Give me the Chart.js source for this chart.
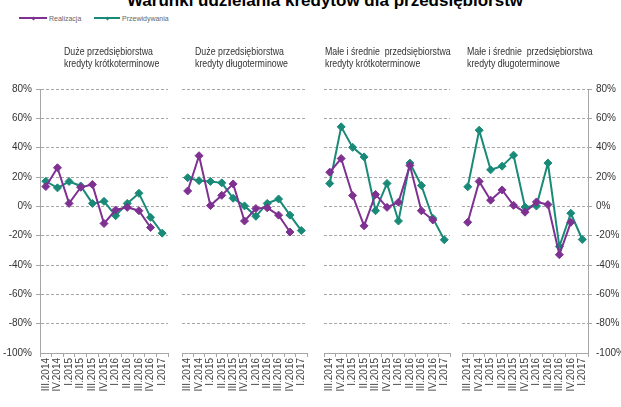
<!DOCTYPE html>
<html lang="pl">
<head>
<meta charset="utf-8">
<title>Warunki udzielania kredytów dla przedsiębiorstw</title>
<script src="https://cdn.jsdelivr.net/npm/chart.js@4.4.0/dist/chart.umd.min.js"></script>
<style>
    html, body { margin: 0; padding: 0; background: #fff; }
    #wrap { position: relative; width: 621px; height: 407px; overflow: hidden; background: #fff;
        font-family: "Liberation Sans", Arial, sans-serif; color: #333; }
    #wrap canvas { position: absolute; top: 0; }
    .main-title { position: absolute; left: 0; width: 650px; top: -8px; text-align: center;
        font-weight: bold; font-size: 17px; line-height: 17px; color: #000; white-space: nowrap; }
    .legend-item { position: absolute; top: 14px; font-size: 7px; line-height: 7px; color: #666; white-space: nowrap; }
    .legend-item .swatch { display: inline-block; position: relative; height: 1.5px; vertical-align: middle;
        margin-right: 2px; background: currentColor; }
    .legend-item .swatch::after { content: ""; position: absolute; left: 50%; top: 50%; width: 3px; height: 3px;
        margin: -1.5px 0 0 -1.5px; background: currentColor; transform: rotate(45deg); }
    .legend-item .label { color: #666; vertical-align: middle; }
    .panel-title { position: absolute; top: 46px; font-size: 11px; line-height: 11.5px; color: #333;
        white-space: pre; transform: scaleX(0.8); transform-origin: 0 0; }
</style>
</head>
<body>
<div id="wrap">
    <div class="main-title">Warunki udzielania kredytów dla przedsiębiorstw</div>
    <div class="legend-item" style="left:19px"><span class="swatch" style="width:28px;color:#7e3191"></span><span class="label">Realizacja</span></div>
    <div class="legend-item" style="left:94px"><span class="swatch" style="width:26px;color:#1a8a78"></span><span class="label">Przewidywania</span></div>
    <canvas id="panel-1" width="173" height="407" style="left:0px"></canvas>
    <canvas id="panel-2" width="135" height="407" style="left:177px"></canvas>
    <canvas id="panel-3" width="136" height="407" style="left:319px"></canvas>
    <canvas id="panel-4" width="164" height="407" style="left:457px"></canvas>
</div>

<script>
// quarters shown under every panel
var categories = ['III.2014', 'IV.2014', 'I.2015', 'II.2015', 'III.2015', 'IV.2015', 'I.2016', 'II.2016', 'III.2016', 'IV.2016', 'I.2017'];

var panelTitles = [
    'Duże przedsiębiorstwa\nkredyty krótkoterminowe',
    'Duże przedsiębiorstwa\nkredyty długoterminowe',
    'Małe i średnie  przedsiębiorstwa\nkredyty krótkoterminowe',
    'Małe i średnie  przedsiębiorstwa\nkredyty długoterminowe'
];

// Realizacja stops at IV.2016, Przewidywania reaches I.2017
var realizacjaDuzeKrotko = [13.5, 26.3, 2, 13, 14.9, -11.7, -2.5, -0.7, -3, -14.4, null];
var przewidywaniaDuzeKrotko = [17.1, 12.6, 16.9, 13.9, 2, 3.4, -6.4, 2, 8.9, -7.5, -18.3];

var realizacjaDuzeDlugo = [10.5, 34.5, 0.5, 7.5, 15.3, -10, -1.5, -1, -6, -17.5, null];
var przewidywaniaDuzeDlugo = [19.5, 17.5, 17, 16, 5.5, 0.3, -6.8, 2, 5, -6, -16.5];

var realizacjaMspKrotko = [23.3, 32.6, 7.4, -13.3, 8.1, -0.7, 2.8, 27.9, -3, -9.3, null];
var przewidywaniaMspKrotko = [15.6, 54.2, 40.2, 33.7, -3, 15.6, -10, 29.5, 14.2, -8.1, -22.8];

var realizacjaMspDlugo = [-10.9, 17, 4.2, 11.2, 0.7, -4, 3, 1.2, -33, -10.9, null];
var przewidywaniaMspDlugo = [13.3, 51.9, 24.9, 27.4, 34.9, -0.5, 0.2, 29.5, -27.4, -4.7, -22.6];

var yMin = -100, yMax = 80, yStep = 20;

!function () {
    "use strict";

    var PanelCharts = function () {
        this.charts = [];
        this.colors = ["#7e3191", "#1a8a78"];
        this.gridColor = "#a6a6a6";
        // left edge of each panel title, px
        this.titleLeft = [64, 195, 325, 467];
    };

    PanelCharts.prototype.makePanel = function (canvasId, realizacja, przewidywania, side) {
        var $this = this;
        var ctx = document.getElementById(canvasId).getContext('2d');
        var axisWidth = side === 'left' ? 40 : (side === 'right' ? 33 : 0);

        var chart = new Chart(ctx, {
            type: 'line', data: {
                labels: categories, datasets: [{
                    label: 'Realizacja',
                    data: realizacja,
                    borderColor: $this.colors[0],
                    backgroundColor: $this.colors[0],
                    borderWidth: 2,
                    pointStyle: 'rectRot',
                    pointRadius: 4,
                    pointBorderWidth: 1,
                }, {
                    label: 'Przewidywania',
                    data: przewidywania,
                    borderColor: $this.colors[1],
                    backgroundColor: $this.colors[1],
                    borderWidth: 2,
                    pointStyle: 'rectRot',
                    pointRadius: 4,
                    pointBorderWidth: 1,
                }]
            }, options: {
                responsive: false, animation: false,
                layout: {padding: {top: 89, left: 0, right: 0, bottom: 0}},
                plugins: {
                    legend: {display: false},
                    tooltip: {enabled: false},
                },
                scales: {
                    x: {
                        offset: true,
                        grid: {
                            offset: true,
                            drawOnChartArea: false,
                            drawTicks: true,
                            tickLength: 4,
                            color: $this.gridColor,
                        },
                        border: {display: true, color: $this.gridColor, width: 1},
                        ticks: {
                            autoSkip: false,
                            minRotation: 90,
                            maxRotation: 90,
                            padding: 1,
                            color: '#444',
                            font: {size: 10},
                        },
                        afterFit: function (scale) {
                            scale.height = 54;
                            scale.paddingLeft = 0;
                            scale.paddingRight = 0;
                        }
                    },
                    y: {
                        position: side === 'right' ? 'right' : 'left',
                        min: yMin, max: yMax,
                        grid: {
                            drawTicks: side !== 'none',
                            tickLength: 4,
                            color: function (c) {
                                return c.tick && c.tick.value === yMin ? 'transparent' : $this.gridColor;
                            },
                        },
                        border: {display: side !== 'none', color: $this.gridColor, width: 1, dash: [3, 2]},
                        ticks: {
                            display: side !== 'none',
                            stepSize: yStep,
                            padding: 4,
                            color: '#333',
                            font: {size: 10},
                            callback: function (v) {
                                return v + '%';
                            }
                        },
                        afterFit: function (scale) {
                            scale.width = axisWidth;
                        }
                    }
                }
            },
        });
        this.charts.push(chart);
    };

    PanelCharts.prototype.addTitles = function () {
        var wrap = document.getElementById('wrap');
        for (var i = 0; i < panelTitles.length; i++) {
            var div = document.createElement('div');
            div.className = 'panel-title';
            div.style.left = this.titleLeft[i] + 'px';
            div.textContent = panelTitles[i];
            wrap.appendChild(div);
        }
    };

    PanelCharts.prototype.init = function () {
        Chart.defaults.font.family = '"Liberation Sans", Arial, sans-serif';
        Chart.defaults.color = "#333";

        this.addTitles();
        this.makePanel('panel-1', realizacjaDuzeKrotko, przewidywaniaDuzeKrotko, 'left');
        this.makePanel('panel-2', realizacjaDuzeDlugo, przewidywaniaDuzeDlugo, 'none');
        this.makePanel('panel-3', realizacjaMspKrotko, przewidywaniaMspKrotko, 'none');
        this.makePanel('panel-4', realizacjaMspDlugo, przewidywaniaMspDlugo, 'right');
    };

    new PanelCharts().init();
}();
</script>
</body>
</html>
